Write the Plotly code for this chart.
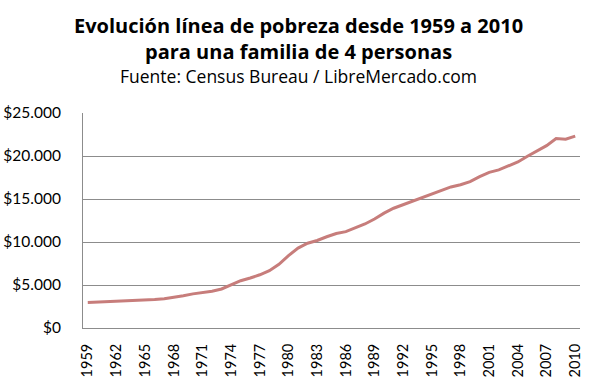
import plotly.graph_objects as go

years = list(range(1959, 2011))
poverty_line = [2973, 3022, 3054, 3089, 3128, 3169, 3223, 3317, 3410, 3553,
                3743, 3968, 4137, 4275, 4540, 5038, 5500, 5815, 6191, 6662,
                7412, 8414, 9287, 9862, 10178, 10609, 10989, 11203, 11611, 12092,
                12674, 13359, 13924, 14335, 14763, 15141, 15569, 16036, 16400, 16660,
                17029, 17603, 18104, 18392, 18810, 19307, 19971, 20614, 21203, 22025,
                21954, 22314]
tick_years = list(range(1959, 2011, 3))
y_ticks = [0, 5000, 10000, 15000, 20000, 25000]
y_labels = ["$0", "$5.000", "$10.000", "$15.000", "$20.000", "$25.000"]

font = "Open Sans, Lato, DejaVu Sans, sans-serif"
tickfont = "Lato, Open Sans, sans-serif"

W, H = 597, 378
ML, MR, MT, MB = 83, 17, 113, 50

fig = go.Figure()
fig.add_trace(go.Scatter(x=years, y=poverty_line, mode="lines",
                         line=dict(color="#C77D7B", width=3), showlegend=False))

fig.update_layout(
    width=W, height=H,
    margin=dict(l=ML, r=MR, t=MT, b=MB),
    paper_bgcolor="white", plot_bgcolor="white",
    font=dict(family=font, color="black"),
    xaxis=dict(range=[1958.5, 2010.5], tickmode="array", tickvals=tick_years,
               ticktext=[str(y) for y in tick_years], tickangle=-90,
               tickfont=dict(size=14.5, family=tickfont), showgrid=False, showline=True,
               linecolor="#8C8C8C", linewidth=1, ticks="", zeroline=False,
               ticklabelstandoff=9, automargin=False),
    yaxis=dict(range=[0, 25000], tickmode="array", tickvals=y_ticks,
               ticktext=y_labels, tickfont=dict(size=15.5, family=tickfont), showgrid=True,
               gridcolor="#8C8C8C", gridwidth=1, showline=True,
               linecolor="#8C8C8C", linewidth=1, ticks="", ticklen=0,
               zeroline=False, automargin=False, ticklabelstandoff=18),
)

plot_h = H - MT - MB
plot_w = W - ML - MR
def ypix(p):
    return (H - MB - p) / plot_h

for txt, py, size in [("<b>Evolución línea de pobreza desde 1959 a 2010<br>para una familia de 4 personas</b>", 39, 20),
                      ("Fuente: Census Bureau / LibreMercado.com", 76, 17.5)]:
    fig.add_annotation(text=txt, x=(298 - ML) / plot_w, y=ypix(py),
                       xref="paper", yref="paper", xanchor="center", yanchor="middle",
                       showarrow=False, font=dict(size=size, color="black"))

fig.write_html("out.html", post_script="document.body.style.margin='0';",
               config={"displayModeBar": False})
